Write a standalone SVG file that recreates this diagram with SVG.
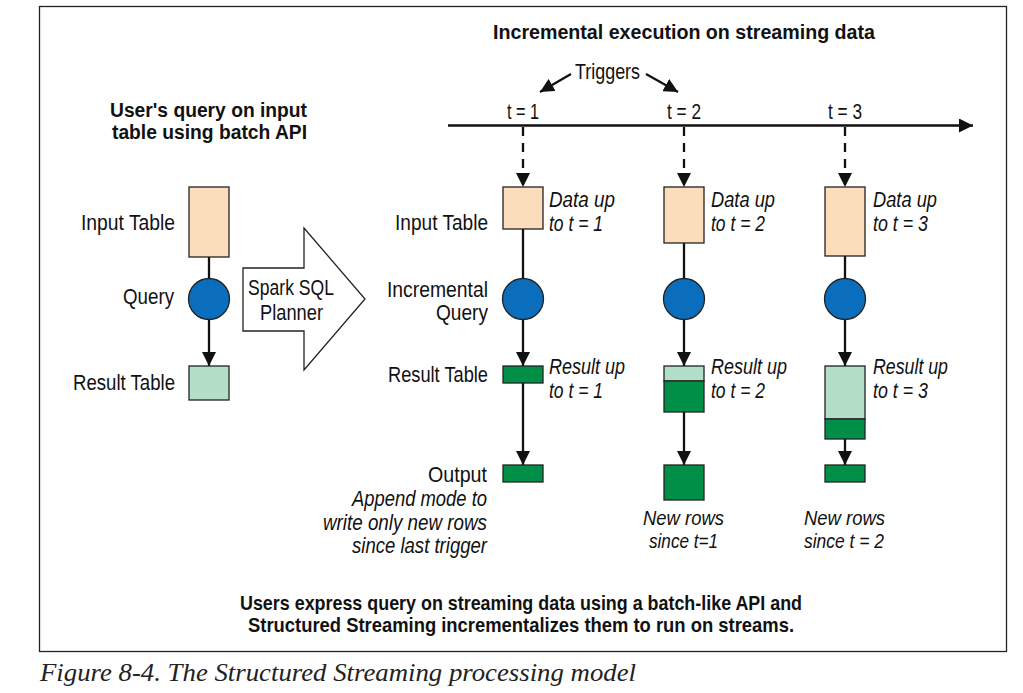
<svg xmlns="http://www.w3.org/2000/svg" width="1023" height="693" viewBox="0 0 1023 693">
<style>
.t{font-family:"Liberation Sans",Arial,sans-serif;font-size:22.5px;fill:#111}
.i{font-family:"Liberation Sans",Arial,sans-serif;font-size:22px;font-style:italic;fill:#111}
.n{font-family:"Liberation Sans",Arial,sans-serif;font-size:20.5px;font-style:italic;fill:#111}
.b{font-family:"Liberation Sans",Arial,sans-serif;font-size:20px;font-weight:bold;fill:#111}
.s{font-family:"Liberation Sans",Arial,sans-serif;font-size:21px;font-weight:bold;fill:#111}
.cap{font-family:"Liberation Serif","Times New Roman",serif;font-size:26px;font-style:italic;fill:#222}
.peach{fill:#FCDDBB;stroke:#222;stroke-width:1.3}
.lg{fill:#B3DFC9;stroke:#222;stroke-width:1.3}
.dg{fill:#008F47;stroke:#222;stroke-width:1.3}
.q{fill:#0A6EBD;stroke:#222;stroke-width:1.3}
.ln{stroke:#111;stroke-width:2.3;fill:none}
.ar{stroke:#111;stroke-width:2.3;fill:none;marker-end:url(#ah)}
.da{stroke:#111;stroke-width:2.3;fill:none;stroke-dasharray:9 7;marker-end:url(#ah)}
</style>
<defs>
<marker id="ah" viewBox="0 0 14 14" refX="14" refY="7" markerWidth="14" markerHeight="14" markerUnits="userSpaceOnUse" orient="auto">
<path d="M0,0 L14,7 L0,14 Z" fill="#111"/>
</marker>
</defs>
<rect x="0" y="0" width="1023" height="693" fill="#fff"/>
<rect id="frame" x="39.5" y="6.5" width="967" height="645" fill="none" stroke="#222" stroke-width="1.3"/>

<g id="titles">
<text class="b" x="110" y="117" textLength="197" lengthAdjust="spacingAndGlyphs">User's query on input</text>
<text class="b" x="112" y="139" textLength="195" lengthAdjust="spacingAndGlyphs">table using batch API</text>
<text class="b" x="493" y="39" textLength="382" lengthAdjust="spacingAndGlyphs">Incremental execution on streaming data</text>
<text class="t" x="575" y="79" textLength="65" lengthAdjust="spacingAndGlyphs">Triggers</text>
<text class="t" x="507" y="119" textLength="32" lengthAdjust="spacingAndGlyphs">t = 1</text>
<text class="t" x="667" y="119" textLength="34" lengthAdjust="spacingAndGlyphs">t = 2</text>
<text class="t" x="828" y="119" textLength="34" lengthAdjust="spacingAndGlyphs">t = 3</text>
</g>

<g id="connectors">
<line class="ar" x1="448" y1="125.5" x2="973" y2="125.5"/>
<line class="ar" x1="571" y1="74" x2="540" y2="92"/>
<line class="ar" x1="646" y1="74" x2="678" y2="92"/>
<line class="ln" x1="209" y1="257" x2="209" y2="279"/>
<line class="ar" x1="209" y1="320" x2="209" y2="366"/>
<line class="da" x1="523" y1="127" x2="523" y2="187"/>
<line class="da" x1="684" y1="127" x2="684" y2="187"/>
<line class="da" x1="845" y1="127" x2="845" y2="187"/>
<line class="ln" x1="523" y1="229" x2="523" y2="279"/>
<line class="ln" x1="684" y1="243" x2="684" y2="279"/>
<line class="ln" x1="845" y1="256" x2="845" y2="279"/>
<line class="ar" x1="523" y1="320" x2="523" y2="366"/>
<line class="ar" x1="684" y1="320" x2="684" y2="366"/>
<line class="ar" x1="845" y1="320" x2="845" y2="366"/>
<line class="ar" x1="523" y1="383" x2="523" y2="465"/>
<line class="ar" x1="684" y1="412" x2="684" y2="465"/>
<line class="ar" x1="845" y1="439" x2="845" y2="465"/>
</g>

<g id="batch">
<rect class="peach" x="189" y="187" width="40" height="70"/>
<circle class="q" cx="209" cy="299" r="20.5"/>
<rect class="lg" x="189" y="366" width="40" height="34"/>
<text class="t" x="81" y="230" textLength="94" lengthAdjust="spacingAndGlyphs">Input Table</text>
<text class="t" x="123" y="304" textLength="51" lengthAdjust="spacingAndGlyphs">Query</text>
<text class="t" x="73" y="390" textLength="102" lengthAdjust="spacingAndGlyphs">Result Table</text>
</g>

<g id="planner">
<polygon points="243,268 304,268 304,228 365,299 304,370 304,331 243,331" fill="#fff" stroke="#222" stroke-width="1.3"/>
<text class="t" x="248" y="295" textLength="86" lengthAdjust="spacingAndGlyphs">Spark SQL</text>
<text class="t" x="260" y="320" textLength="63" lengthAdjust="spacingAndGlyphs">Planner</text>
</g>

<g id="row-labels">
<text class="t" x="395" y="230" textLength="93" lengthAdjust="spacingAndGlyphs">Input Table</text>
<text class="t" x="387" y="297" textLength="101" lengthAdjust="spacingAndGlyphs">Incremental</text>
<text class="t" x="436" y="320" textLength="52" lengthAdjust="spacingAndGlyphs">Query</text>
<text class="t" x="388" y="382" textLength="100" lengthAdjust="spacingAndGlyphs">Result Table</text>
<text class="t" x="428" y="482" textLength="59" lengthAdjust="spacingAndGlyphs">Output</text>
<text class="i" x="352" y="506" textLength="135" lengthAdjust="spacingAndGlyphs">Append mode to</text>
<text class="i" x="323" y="530" textLength="164" lengthAdjust="spacingAndGlyphs">write only new rows</text>
<text class="i" x="352" y="553" textLength="135" lengthAdjust="spacingAndGlyphs">since last trigger</text>
</g>

<g id="t1">
<rect class="peach" x="503" y="187" width="40" height="42"/>
<circle class="q" cx="523" cy="299" r="20.5"/>
<rect class="dg" x="503" y="366" width="40" height="17"/>
<rect class="dg" x="503" y="465" width="40" height="17"/>
<text class="i" x="549" y="207" textLength="66" lengthAdjust="spacingAndGlyphs">Data up</text>
<text class="i" x="549" y="231" textLength="54" lengthAdjust="spacingAndGlyphs">to t = 1</text>
<text class="i" x="549" y="374" textLength="76" lengthAdjust="spacingAndGlyphs">Result up</text>
<text class="i" x="549" y="398" textLength="54" lengthAdjust="spacingAndGlyphs">to t = 1</text>
</g>

<g id="t2">
<rect class="peach" x="664" y="187" width="40" height="56"/>
<circle class="q" cx="684" cy="299" r="20.5"/>
<rect class="lg" x="664" y="366" width="40" height="15"/>
<rect class="dg" x="664" y="381" width="40" height="31"/>
<rect class="dg" x="664" y="465" width="40" height="35"/>
<text class="i" x="711" y="207" textLength="64" lengthAdjust="spacingAndGlyphs">Data up</text>
<text class="i" x="711" y="231" textLength="54" lengthAdjust="spacingAndGlyphs">to t = 2</text>
<text class="i" x="711" y="374" textLength="76" lengthAdjust="spacingAndGlyphs">Result up</text>
<text class="i" x="711" y="398" textLength="54" lengthAdjust="spacingAndGlyphs">to t = 2</text>
<text class="n" x="643" y="525" textLength="81" lengthAdjust="spacingAndGlyphs">New rows</text>
<text class="n" x="649" y="548" textLength="69" lengthAdjust="spacingAndGlyphs">since t=1</text>
</g>

<g id="t3">
<rect class="peach" x="825" y="187" width="40" height="69"/>
<circle class="q" cx="845" cy="299" r="20.5"/>
<rect class="lg" x="825" y="366" width="40" height="53"/>
<rect class="dg" x="825" y="419" width="40" height="20"/>
<rect class="dg" x="825" y="465" width="40" height="17"/>
<text class="i" x="873" y="207" textLength="64" lengthAdjust="spacingAndGlyphs">Data up</text>
<text class="i" x="873" y="231" textLength="55" lengthAdjust="spacingAndGlyphs">to t = 3</text>
<text class="i" x="873" y="374" textLength="75" lengthAdjust="spacingAndGlyphs">Result up</text>
<text class="i" x="873" y="398" textLength="55" lengthAdjust="spacingAndGlyphs">to t = 3</text>
<text class="n" x="804" y="525" textLength="81" lengthAdjust="spacingAndGlyphs">New rows</text>
<text class="n" x="804" y="548" textLength="80" lengthAdjust="spacingAndGlyphs">since t = 2</text>
</g>

<g id="summary">
<text class="s" x="240" y="610" textLength="562" lengthAdjust="spacingAndGlyphs">Users express query on streaming data using a batch-like API and</text>
<text class="s" x="248" y="632" textLength="546" lengthAdjust="spacingAndGlyphs">Structured Streaming incrementalizes them to run on streams.</text>
</g>

<text class="cap" x="40" y="681" textLength="596" lengthAdjust="spacingAndGlyphs">Figure 8-4. The Structured Streaming processing model</text>
</svg>
